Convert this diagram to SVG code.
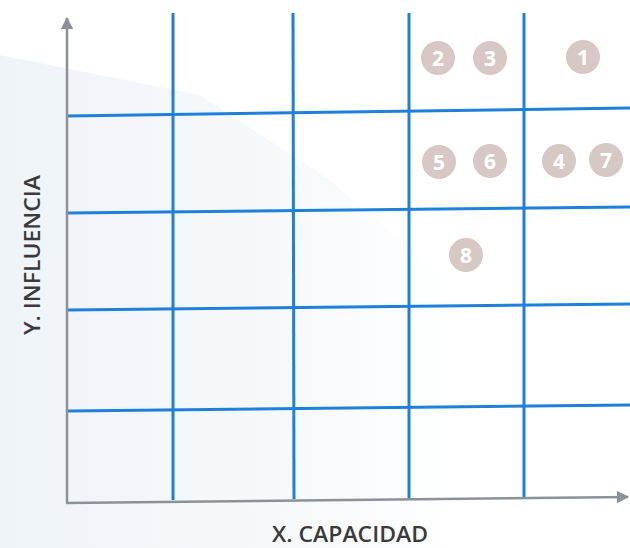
<svg xmlns="http://www.w3.org/2000/svg" width="630" height="548" viewBox="0 0 630 548">
<defs>
<marker id="arr" viewBox="0 0 10 10" refX="9" refY="5" markerWidth="5" markerHeight="5" orient="auto" markerUnits="strokeWidth">
<path d="M0,0 L10,5 L0,10 Z" fill="#8c9198"/>
</marker>
<linearGradient id="shade" x1="0" y1="0" x2="1" y2="0">
<stop offset="0" stop-color="#e9f0f7" stop-opacity="1"/>
<stop offset="0.7" stop-color="#eef3f8" stop-opacity="0.6"/>
<stop offset="1" stop-color="#f5f8fb" stop-opacity="0"/>
</linearGradient>
<style>
.grid{stroke:#1f80dc;stroke-width:3;fill:none;stroke-linecap:butt}
.axis{stroke:#8c9198;stroke-width:2.5;fill:none}
.dot{fill:#d8c8c5}
.num{font-family:"Open Sans","Liberation Sans",sans-serif;font-weight:700;font-size:21px;fill:#ffffff;text-anchor:middle}
.lbl{font-family:"Open Sans","Liberation Sans",sans-serif;font-weight:600;font-size:22px;fill:#3a3a3a;text-anchor:middle}
</style>
</defs>
<rect width="630" height="548" fill="#ffffff"/>
<polygon points="0,55 200,95 330,180 470,300 470,548 0,548" fill="url(#shade)" opacity="0.75"/>
<g id="connectors">
<g id="grid">
<line class="grid" x1="173" y1="13" x2="173" y2="500"/>
<line class="grid" x1="293" y1="13" x2="294" y2="499"/>
<line class="grid" x1="409" y1="13" x2="409" y2="499"/>
<line class="grid" x1="524" y1="13" x2="524" y2="498"/>
<line class="grid" x1="68" y1="116" x2="630" y2="108"/>
<line class="grid" x1="68" y1="213" x2="630" y2="207"/>
<line class="grid" x1="68" y1="310" x2="630" y2="304"/>
<line class="grid" x1="68" y1="411" x2="630" y2="405"/>
</g>
<g id="axes">
<line class="axis" x1="67" y1="503" x2="67" y2="18" marker-end="url(#arr)"/>
<line class="axis" x1="66" y1="503" x2="628" y2="497" marker-end="url(#arr)"/>
</g>
</g>
<g id="n1"><circle class="dot" cx="583" cy="57" r="17"/><text class="num" x="583" y="64.5">1</text></g>
<g id="n2"><circle class="dot" cx="438" cy="58" r="17"/><text class="num" x="438" y="65.5">2</text></g>
<g id="n3"><circle class="dot" cx="490" cy="58" r="17"/><text class="num" x="490" y="65.5">3</text></g>
<g id="n4"><circle class="dot" cx="559" cy="161" r="17"/><text class="num" x="559" y="168.5">4</text></g>
<g id="n5"><circle class="dot" cx="439" cy="162" r="17"/><text class="num" x="439" y="169.5">5</text></g>
<g id="n6"><circle class="dot" cx="490" cy="161" r="17"/><text class="num" x="490" y="168.5">6</text></g>
<g id="n7"><circle class="dot" cx="606" cy="160" r="17"/><text class="num" x="606" y="167.5">7</text></g>
<g id="n8"><circle class="dot" cx="466" cy="255" r="17"/><text class="num" x="466" y="262.5">8</text></g>
<g id="labels">
<text class="lbl" x="350" y="542" textLength="156" lengthAdjust="spacingAndGlyphs">X. CAPACIDAD</text>
<text class="lbl" transform="translate(40,255) rotate(-90)" x="0" y="0" textLength="160" lengthAdjust="spacingAndGlyphs">Y. INFLUENCIA</text>
</g>
</svg>
